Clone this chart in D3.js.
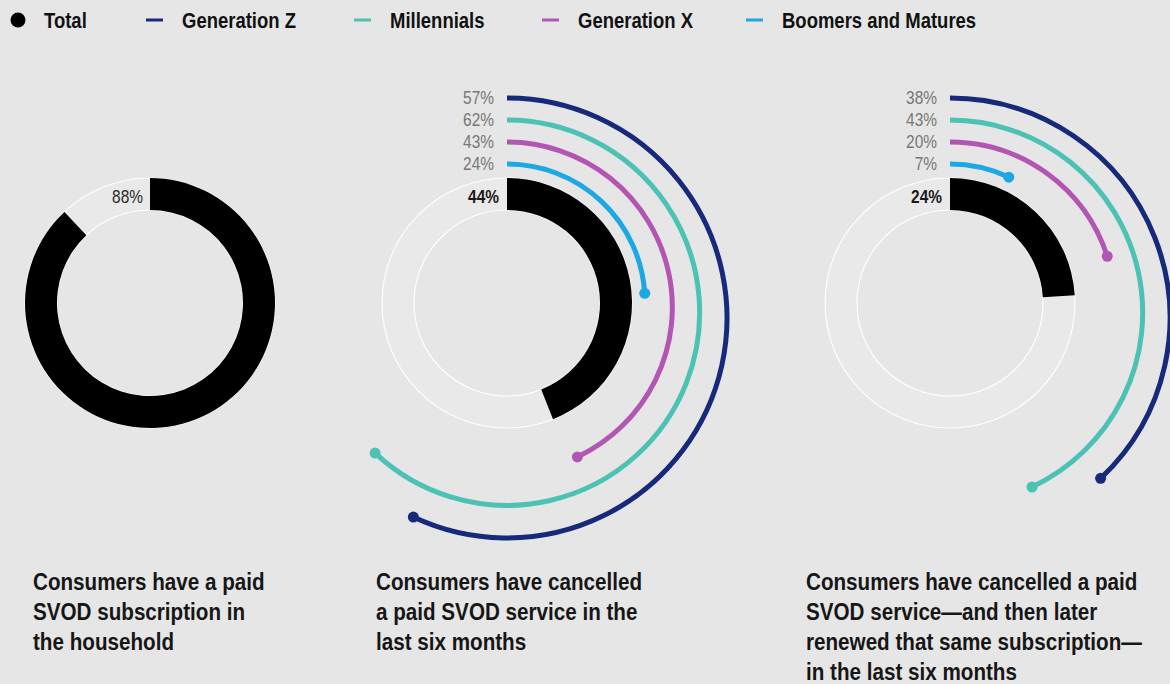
<!DOCTYPE html>
<html>
<head>
<meta charset="utf-8">
<script src="https://cdn.jsdelivr.net/npm/d3@7/dist/d3.min.js"></script>
<style>
  html, body { margin: 0; padding: 0; background: #e6e6e6; }
  svg { display: block; }
</style>
</head>
<body>
<svg id="chart" width="1170" height="684"></svg>
<script>
// ---- data ----
const seriesNames = ["Total", "Generation Z", "Millennials", "Generation X", "Boomers and Matures"];
const seriesColors = ["#000000", "#16297a", "#4bc2b4", "#b356b3", "#1ca8e4"];

const panelTitles = [
  ["Consumers have a paid", "SVOD subscription in", "the household"],
  ["Consumers have cancelled", "a paid SVOD service in the", "last six months"],
  ["Consumers have cancelled a paid", "SVOD service\u2014and then later", "renewed that same subscription\u2014", "in the last six months"]
];

// total share per panel
const totalValues = [88, 44, 24];
// generation shares per panel (null = not shown)
const genZValues = [null, 57, 38];
const millennialValues = [null, 62, 43];
const genXValues = [null, 43, 20];
const boomerValues = [null, 24, 7];

// ---- layout ----
const W = 1170, H = 684;
const centersX = [150, 507, 950];
const centerY = 303;
const outerR = 125, innerR = 93;
const FONT = '"Liberation Sans", Arial, sans-serif';
const SQUEEZE = 0.86; // horizontal condensing for a narrow grotesque look

const svg = d3.select("#chart");
svg.append("rect").attr("width", W).attr("height", H).attr("fill", "#e6e6e6");

// condensed text helper: draws text at (x, y) squeezed horizontally
function label(parent, x, y, str, opts) {
  const g = parent.append("g").attr("transform", `translate(${x},${y}) scale(${SQUEEZE},1)`);
  return g.append("text")
    .attr("x", 0).attr("y", 0)
    .attr("dy", opts.dy || "0.35em")
    .attr("text-anchor", opts.anchor || "start")
    .style("font-family", FONT)
    .style("font-size", opts.size + "px")
    .style("font-weight", opts.weight || 400)
    .attr("fill", opts.fill || "#111")
    .text(str);
}

const angle = d3.scaleLinear().domain([0, 100]).range([0, 2 * Math.PI]);

// generation rings, outermost first; each ring's top sits 22px above the next
const genSeries = [
  { name: seriesNames[1], color: seriesColors[1], values: genZValues },
  { name: seriesNames[2], color: seriesColors[2], values: millennialValues },
  { name: seriesNames[3], color: seriesColors[3], values: genXValues },
  { name: seriesNames[4], color: seriesColors[4], values: boomerValues }
];
const ringRadius = d3.scaleLinear().domain([3, 0]).range([138, 220]);
const ringTop = d3.scaleLinear().domain([3, 0]).range([164, 98]);

// ---- legend ----
const legendX = [18, 146, 354, 542, 746];
const legend = svg.append("g").attr("class", "legend");
seriesNames.forEach((name, i) => {
  const g = legend.append("g").attr("transform", `translate(${legendX[i]},20)`);
  if (i === 0) {
    g.append("circle").attr("r", 7.5).attr("fill", seriesColors[0]);
    label(g, 26, 0, name, { size: 21.5, weight: 700, fill: "#111" });
  } else {
    g.append("line").attr("x1", 0).attr("x2", 17).attr("y1", 0).attr("y2", 0)
      .attr("stroke", seriesColors[i]).attr("stroke-width", 3);
    label(g, 36, 0, name, { size: 21.5, weight: 700, fill: "#111" });
  }
});

// ---- panels ----
const ringArc = d3.arc().innerRadius(innerR).outerRadius(outerR);

totalValues.forEach((total, p) => {
  const cx = centersX[p];
  const g = svg.append("g").attr("transform", `translate(${cx},${centerY})`);

  // background track
  g.append("path")
    .attr("d", ringArc({ startAngle: 0, endAngle: 2 * Math.PI }))
    .attr("fill", "#e9e9e9").attr("stroke", "#ffffff").attr("stroke-width", 1.1);

  // total ring
  g.append("path")
    .attr("d", ringArc({ startAngle: 0, endAngle: angle(total) }))
    .attr("fill", seriesColors[0]);

  label(g, p === 0 ? -7 : -8, -(outerR - 19), total + "%", {
    size: 18, anchor: "end",
    weight: p === 0 ? 400 : 700,
    fill: p === 0 ? "#2a2a2a" : "#1a1a1a"
  });

  // generation arcs
  genSeries.forEach((s, k) => {
    const v = s.values[p];
    if (v == null) return;
    const r = ringRadius(k);
    const top = ringTop(k);
    const oy = top + r - centerY; // vertical offset of this arc's centre
    const a1 = angle(v);
    const ga = g.append("g").attr("transform", `translate(0,${oy})`);
    ga.append("path")
      .attr("d", d3.arc()({ innerRadius: r, outerRadius: r, startAngle: 0, endAngle: a1 }))
      .attr("fill", "none").attr("stroke", s.color).attr("stroke-width", 5);
    ga.append("circle")
      .attr("cx", r * Math.sin(a1)).attr("cy", -r * Math.cos(a1))
      .attr("r", 5.5).attr("fill", s.color);
    label(g, -13, top - centerY, v + "%", { size: 18, anchor: "end", fill: "#777" });
  });
});

// ---- panel titles ----
const titleX = [33, 376, 806];
panelTitles.forEach((lines, p) => {
  lines.forEach((ln, i) => {
    label(svg, titleX[p], 590 + i * 30, ln, { size: 24, weight: 700, fill: "#161616", dy: "0" });
  });
});
</script>
</body>
</html>
